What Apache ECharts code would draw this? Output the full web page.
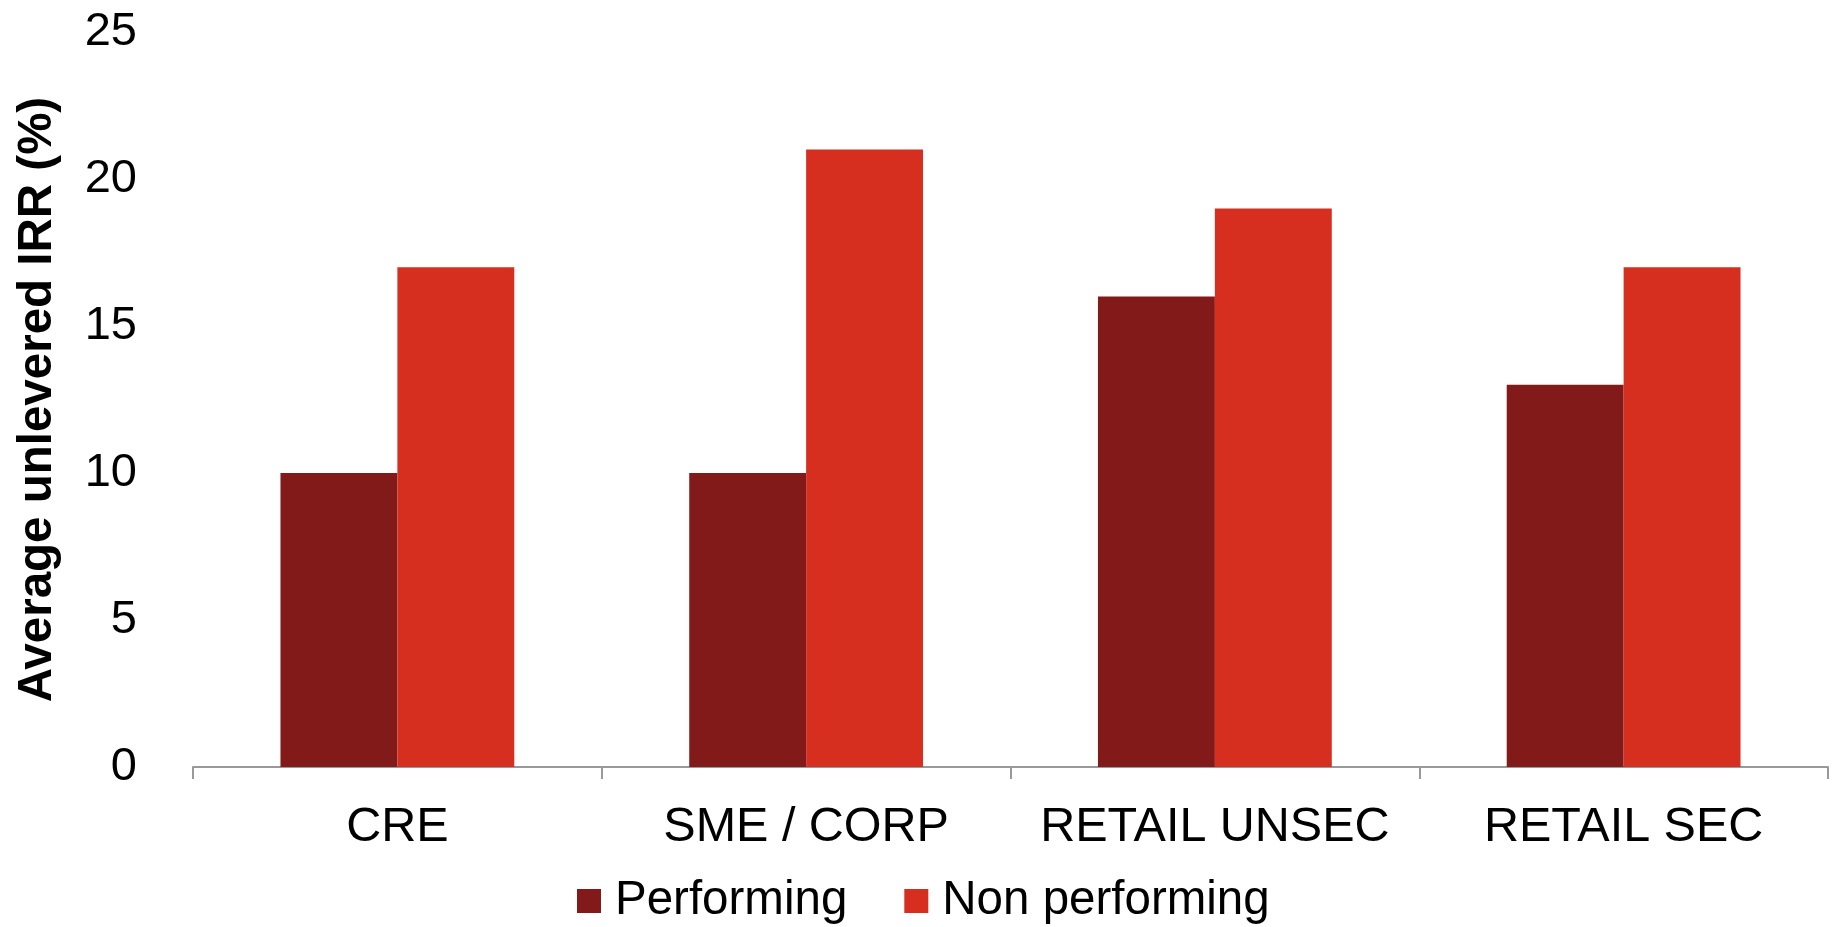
<!DOCTYPE html>
<html>
<head>
<meta charset="utf-8">
<script src="https://cdn.jsdelivr.net/npm/echarts@6/dist/echarts.min.js"></script>
<style>
  html, body { margin: 0; padding: 0; background: #ffffff; }
  #chart { width: 1837px; height: 927px; }
</style>
</head>
<body>
<div id="chart"></div>
<script>
// Loan segments on the category axis
const categories = ['CRE', 'SME / CORP', 'RETAIL UNSEC', 'RETAIL SEC'];
// Average unlevered IRR (%) per segment
const performing = [10, 10, 16, 13];
const nonPerforming = [17, 21, 19, 17];
const seriesNames = ['Performing', 'Non performing'];
const yAxisTitle = 'Average unlevered IRR (%)';

const FONT = '"Liberation Sans", Arial, sans-serif';

const chart = echarts.init(document.getElementById('chart'), null, { renderer: 'canvas' });

chart.setOption({
  backgroundColor: '#ffffff',
  animation: false,
  grid: { left: 193, right: 9, top: 32, bottom: 160, containLabel: false, outerBoundsMode: 'none' },
  legend: {
    data: seriesNames,
    bottom: -3,
    left: 572,
    itemWidth: 24,
    itemHeight: 24,
    itemGap: 57,
    icon: 'rect',
    textStyle: { fontFamily: FONT, fontSize: 47.5, color: '#000000', padding: [0, 0, 0, 9] }
  },
  xAxis: {
    type: 'category',
    data: categories,
    boundaryGap: true,
    axisLine: { show: true, lineStyle: { color: '#999999', width: 2 } },
    axisTick: { show: true, interval: 0, alignWithLabel: false, length: 12, lineStyle: { color: '#999999', width: 2 } },
    axisLabel: { interval: 0, fontFamily: FONT, fontSize: 48.5, color: '#000000', margin: 36 },
    splitLine: { show: false }
  },
  yAxis: {
    type: 'value',
    min: 0,
    max: 25,
    interval: 5,
    name: yAxisTitle,
    nameLocation: 'middle',
    nameGap: 131,
    nameTextStyle: { fontFamily: FONT, fontSize: 47.5, fontWeight: 'bold', color: '#000000' },
    axisLine: { show: false },
    axisTick: { show: false },
    axisLabel: { fontFamily: FONT, fontSize: 47, color: '#000000', margin: 56 },
    splitLine: { show: false }
  },
  series: [
    {
      name: seriesNames[0],
      type: 'bar',
      data: performing,
      barGap: 0,
      barCategoryGap: '42.8%',
      itemStyle: { color: '#831A1A' }
    },
    {
      name: seriesNames[1],
      type: 'bar',
      data: nonPerforming,
      barGap: 0,
      barCategoryGap: '42.8%',
      itemStyle: { color: '#D62E1F' }
    }
  ]
});
</script>
</body>
</html>
